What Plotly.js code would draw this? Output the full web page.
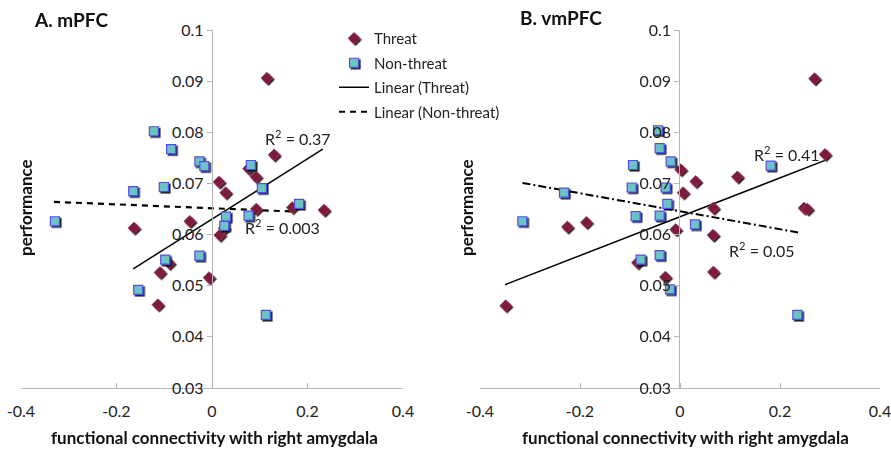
<!DOCTYPE html>
<html><head><meta charset="utf-8">
<script src="https://cdn.plot.ly/plotly-3.0.1.min.js"></script>
<style>
body{margin:0;padding:0;background:#fff;}
#chart{width:891px;height:450px;}
.scatterlayer .trace g.points, .legend .legendpoints .scatterpts{filter:url(#msh);}
</style>
</head><body>
<svg width="0" height="0" style="position:absolute"><defs>
<filter id="msh" x="-50%" y="-50%" width="200%" height="200%">
<feDropShadow dx="1.6" dy="1.6" stdDeviation="0.4" flood-color="#111" flood-opacity="0.9"/>
</filter></defs></svg>
<div id="chart"></div>
<script>
// Panel A (mPFC)
const threatA_x = [0.115, 0.130, 0.0765, 0.092, 0.0146, 0.0285, 0.0926, 0.168, 0.2345, -0.0466, -0.1635, 0.016, -0.0898, -0.109, -0.0063, -0.1134, 0.025];
const threatA_y = [0.0906, 0.0756, 0.0729, 0.0713, 0.0703, 0.0682, 0.0650, 0.0653, 0.0648, 0.0626, 0.0613, 0.0599, 0.0544, 0.0526, 0.0516, 0.0463, 0.0612];
const nonA_x = [-0.1218, -0.0856, -0.0264, -0.016, 0.0814, -0.1009, 0.1044, -0.165, 0.1823, 0.0292, 0.0765, 0.0257, -0.329, -0.098, -0.0264, -0.1545, 0.1127];
const nonA_y = [0.0802, 0.0767, 0.0743, 0.0734, 0.0736, 0.0693, 0.0691, 0.0685, 0.0660, 0.0635, 0.0637, 0.0617, 0.0626, 0.0551, 0.0559, 0.0492, 0.0443];
// Panel B (vmPFC)
const threatB_x = [0.269, 0.29, 0.0013, 0.1147, 0.0313, 0.006, 0.0667, 0.248, 0.2547, -0.1873, -0.2253, -0.0087, 0.066, -0.0853, 0.0667, -0.0293, -0.3487];
const threatB_y = [0.0905, 0.0757, 0.0727, 0.0713, 0.0704, 0.0682, 0.0652, 0.0652, 0.0650, 0.0624, 0.0615, 0.0610, 0.0599, 0.0545, 0.0527, 0.0517, 0.0461];
const nonB_x = [-0.044, -0.0407, -0.0187, -0.094, 0.1813, -0.0967, -0.0287, -0.232, -0.0253, -0.0407, -0.0887, 0.03, -0.3153, -0.0787, -0.0407, -0.02, 0.2347];
const nonB_y = [0.0804, 0.0769, 0.0743, 0.0736, 0.0735, 0.0692, 0.0692, 0.0682, 0.0660, 0.0637, 0.0636, 0.0620, 0.0626, 0.0551, 0.0560, 0.0493, 0.0443];
// Linear trendlines (end points)
const trendThreatA_x = [-0.165, 0.232], trendThreatA_y = [0.0533, 0.0767];
const trendNonA_x = [-0.331, 0.171], trendNonA_y = [0.0664, 0.0645];
const trendThreatB_x = [-0.350, 0.290], trendThreatB_y = [0.0502, 0.0745];
const trendNonB_x = [-0.315, 0.237], trendNonB_y = [0.0701, 0.0604];
// Ticks
const xTickVals = [-0.4, -0.2, 0, 0.2, 0.4];
const xTickText = ["-0.4", "-0.2", "0", "0.2", "0.4"];
const yTickVals = [0.03, 0.04, 0.05, 0.06, 0.07, 0.08, 0.09, 0.1];
const yTickText = ["0.03", "0.04", "0.05", "0.06", "0.07", "0.08", "0.09", "0.1"];
const seriesNames = ["Threat", "Non-threat", "Linear (Threat)", "Linear (Non-threat)"];

const FONT = "Lato, 'Open Sans', sans-serif";
const TXT = "#222";
const diamond = {symbol: "diamond", size: 9, color: "#7a1e3c", line: {color: "#b0304f", width: 0.8}};
const square = {symbol: "square", size: 9, color: "#6cc3c6", line: {color: "#5050e6", width: 1.2}};

const traces = [
  {x: trendThreatA_x, y: trendThreatA_y, xaxis: "x", yaxis: "y", mode: "lines", name: seriesNames[2], legendgroup: "g3", line: {color: "#000", width: 1.5}},
  {x: trendNonA_x, y: trendNonA_y, xaxis: "x", yaxis: "y", mode: "lines", name: seriesNames[3], legendgroup: "g4", line: {color: "#000", width: 2.2, dash: "6px,5px"}},
  {x: trendThreatB_x, y: trendThreatB_y, xaxis: "x2", yaxis: "y2", mode: "lines", showlegend: false, line: {color: "#000", width: 1.5}},
  {x: trendNonB_x, y: trendNonB_y, xaxis: "x2", yaxis: "y2", mode: "lines", showlegend: false, line: {color: "#000", width: 2, dash: "8px,3px,2px,3px"}},
  {x: threatA_x, y: threatA_y, xaxis: "x", yaxis: "y", mode: "markers", name: seriesNames[0], legendgroup: "g1", marker: diamond},
  {x: nonA_x, y: nonA_y, xaxis: "x", yaxis: "y", mode: "markers", name: seriesNames[1], legendgroup: "g2", marker: square},
  {x: threatB_x, y: threatB_y, xaxis: "x2", yaxis: "y2", mode: "markers", showlegend: false, marker: diamond},
  {x: nonB_x, y: nonB_y, xaxis: "x2", yaxis: "y2", mode: "markers", showlegend: false, marker: square}
];
// legend order
traces[4].legendrank = 1; traces[5].legendrank = 2; traces[0].legendrank = 3; traces[1].legendrank = 4;

function xa(domain, anchor) {
  return {domain: domain, range: [-0.4, 0.4], anchor: anchor, tickvals: xTickVals, ticktext: xTickText,
    showline: true, linecolor: "#b5b5b5", linewidth: 1, ticks: "inside", ticklen: 5, tickcolor: "#b5b5b5",
    showgrid: false, zeroline: false, tickfont: {family: FONT, size: 16, color: TXT}, ticklabelstandoff: 9,
    ticklabeloverflow: "allow"};
}
function ya(domain, pos) {
  return {domain: domain, range: [0.03, 0.1], anchor: "free", position: pos, tickvals: yTickVals, ticktext: yTickText,
    showline: true, linecolor: "#b5b5b5", linewidth: 1, ticks: "outside", ticklen: 5, tickcolor: "#b5b5b5",
    showgrid: false, zeroline: false, tickfont: {family: FONT, size: 16, color: TXT}, ticklabeloverflow: "allow"};
}
function pa(text, px, py, opts) {
  return Object.assign({text: text, xref: "paper", yref: "paper", x: px / 891, y: 1 - py / 450, showarrow: false,
    font: {family: FONT, size: 16, color: TXT}}, opts || {});
}
const bold = (s) => ({family: FONT, size: s, color: "#111", weight: "bold"});

const layout = {
  width: 891, height: 450, margin: {l: 0, r: 0, t: 0, b: 0},
  paper_bgcolor: "#fff", plot_bgcolor: "rgba(0,0,0,0)", font: {family: FONT, color: TXT},
  xaxis: xa([21 / 891, 403 / 891], "y"),
  yaxis: ya([62 / 450, 420 / 450], 211.7 / 891),
  xaxis2: xa([480 / 891, 880 / 891], "y2"),
  yaxis2: ya([62 / 450, 420 / 450], 679.3 / 891),
  showlegend: true,
  legend: {x: 334 / 891, y: 1 - 22 / 450, xanchor: "left", yanchor: "top", bgcolor: "rgba(0,0,0,0)",
    font: {family: FONT, size: 15, color: TXT}, traceorder: "grouped", tracegroupgap: 2, itemwidth: 30},
  annotations: [
    pa("A. mPFC", 32, 20, {xanchor: "left", yanchor: "middle", font: bold(19)}),
    pa("B. vmPFC", 518, 17, {xanchor: "left", yanchor: "middle", font: bold(19)}),
    pa("performance", 25, 208, {textangle: -90, xanchor: "center", yanchor: "middle", font: bold(17)}),
    pa("performance", 467, 207, {textangle: -90, xanchor: "center", yanchor: "middle", font: bold(17)}),
    pa("functional connectivity with right amygdala", 214, 437, {xanchor: "center", yanchor: "middle", font: bold(17)}),
    pa("functional connectivity with right amygdala", 685, 437, {xanchor: "center", yanchor: "middle", font: bold(17)}),
    pa("R<sup>2</sup> = 0.37", 263, 137, {xanchor: "left", yanchor: "middle"}),
    pa("R<sup>2</sup> = 0.003", 243, 226, {xanchor: "left", yanchor: "middle"}),
    pa("R<sup>2</sup> = 0.41", 752, 153, {xanchor: "left", yanchor: "middle"}),
    pa("R<sup>2</sup> = 0.05", 727, 249, {xanchor: "left", yanchor: "middle"})
  ]
};
Plotly.newPlot("chart", traces, layout, {displayModeBar: false, staticPlot: true});
</script>
</body></html>
